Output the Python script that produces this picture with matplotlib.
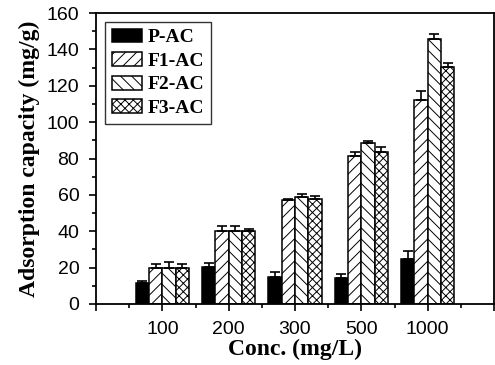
import numpy as np
import matplotlib
matplotlib.use("Agg")
import matplotlib.pyplot as plt
from matplotlib.ticker import MultipleLocator

conc = ["100", "200", "300", "500", "1000"]
series = ["P-AC", "F1-AC", "F2-AC", "F3-AC"]
p_ac = [11.5, 20.5, 15.0, 14.3, 24.7]
f1_ac = [20.0, 40.0, 57.2, 81.5, 112.3]
f2_ac = [20.0, 40.0, 58.8, 88.6, 145.6]
f3_ac = [20.0, 40.0, 57.7, 83.7, 130.4]
p_err = [1.2, 2.0, 2.5, 2.2, 4.4]
f1_err = [2.0, 3.0, 0.8, 1.8, 5.0]
f2_err = [3.0, 3.0, 1.8, 0.9, 3.0]
f3_err = [2.0, 1.2, 1.5, 2.7, 2.2]

values = [p_ac, f1_ac, f2_ac, f3_ac]
errors = [p_err, f1_err, f2_err, f3_err]
hatches = [None, "///", "\\\\\\", "xxxx"]
faces = ["black", "white", "white", "white"]

plt.rcParams["hatch.linewidth"] = 0.7
serif = {"family": "Liberation Serif", "weight": "bold"}

fig = plt.figure(figsize=(4.95, 3.65), dpi=100)
ax = fig.add_axes([96 / 495, 61 / 365, 398 / 495, 291 / 365])

x = np.arange(1, len(conc) + 1)
w = 0.2
for i, (vals, errs) in enumerate(zip(values, errors)):
    pos = x + (i - 1.5) * w
    ax.bar(pos, vals, w, color=faces[i], edgecolor="black", hatch=hatches[i],
           linewidth=1.1, label=series[i], zorder=2)
    ax.errorbar(pos, vals, yerr=[np.zeros(len(errs)), errs], fmt="none",
                ecolor="black", elinewidth=1.2, capsize=3.5, capthick=1.2,
                zorder=3)

ax.set_xlim(0, 6)
ax.set_ylim(0, 160)
ax.set_xticks(np.arange(0, 7))
ax.set_xticklabels([""] + conc + [""])
ax.xaxis.set_minor_locator(MultipleLocator(0.5))
ax.yaxis.set_major_locator(MultipleLocator(20))
ax.yaxis.set_minor_locator(MultipleLocator(10))
ax.tick_params(which="major", direction="out", length=5, width=1.2,
               labelsize=14)
ax.tick_params(axis="y", which="major", pad=7)
ax.tick_params(axis="x", which="major", pad=7)
ax.tick_params(which="minor", direction="out", length=3, width=1.2)
for lab in ax.get_xticklabels() + ax.get_yticklabels():
    lab.set_family("Liberation Sans")
for s in ax.spines.values():
    s.set_linewidth(1.3)

ax.set_xlabel("Conc. (mg/L)", fontdict=dict(serif, size=17), labelpad=1)
ax.set_ylabel("Adsorption capacity (mg/g)", fontdict=dict(serif, size=17),
              labelpad=5)

leg = ax.legend(loc="upper left", prop={"family": "Liberation Serif",
                "weight": "bold", "size": 14}, frameon=True, fancybox=False,
                edgecolor="black", handlelength=1.55, handleheight=0.72,
                handletextpad=0.3, labelspacing=0.3, borderpad=0.35,
                borderaxespad=0.45)
leg.get_frame().set_linewidth(1.0)

fig.savefig("out.png", dpi=100)
